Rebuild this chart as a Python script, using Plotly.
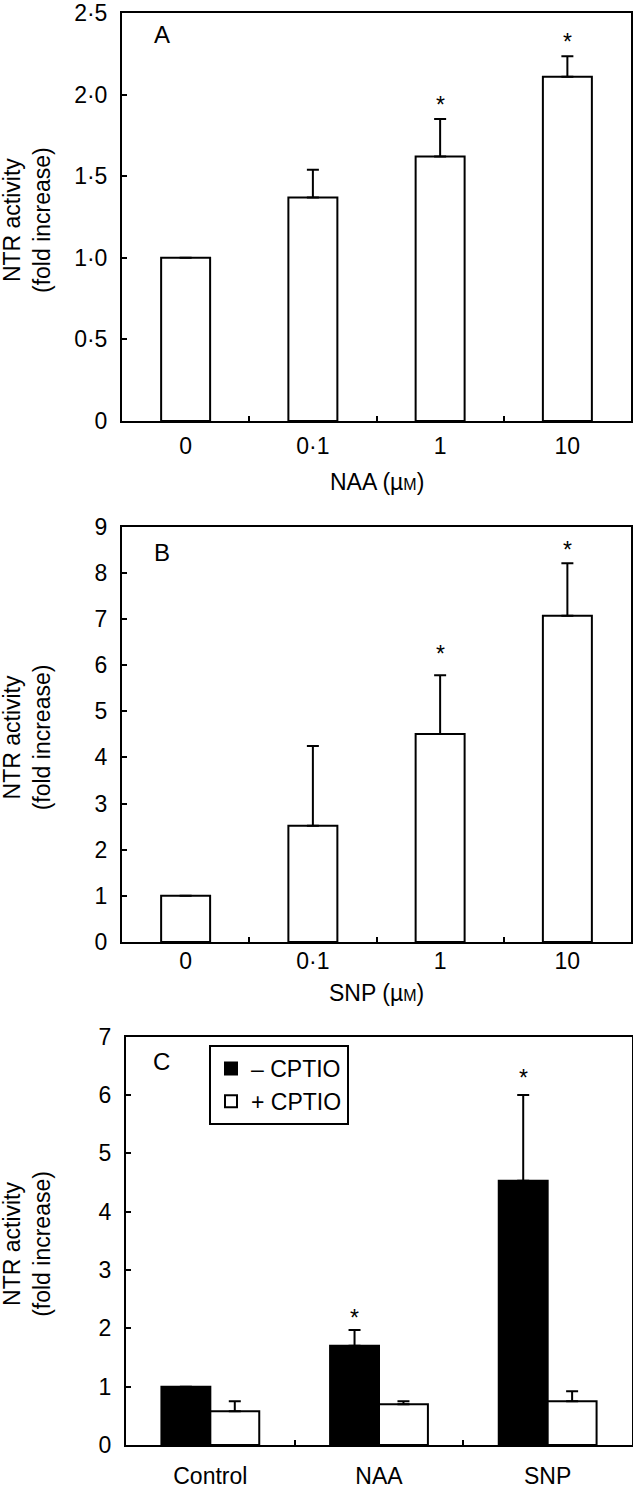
import plotly.graph_objects as go

FONT = "Liberation Sans, Arial, Helvetica, sans-serif"
FS = 23
W, H = 633, 1493

# ---------------- data ----------------
# Panel A: NAA dose
a_cats = ["0", "0·1", "1", "10"]
a_vals = [1.0, 1.37, 1.62, 2.11]
a_err = [0.0, 0.17, 0.23, 0.125]
a_star = [None, None, 1.97, 2.35]
a_yticks = [0, 0.5, 1.0, 1.5, 2.0, 2.5]
a_yticktext = ["0", "0·5", "1·0", "1·5", "2·0", "2·5"]

# Panel B: SNP dose
b_cats = ["0", "0·1", "1", "10"]
b_vals = [1.0, 2.52, 4.51, 7.07]
b_err = [0.0, 1.73, 1.27, 1.14]
b_star = [None, None, 6.34, 8.6]
b_yticks = list(range(0, 10))

# Panel C: +/- CPTIO
c_cats = ["Control", "NAA", "SNP"]
c_minus = [1.0, 1.70, 4.53]
c_minus_err = [0.0, 0.27, 1.47]
c_plus = [0.58, 0.70, 0.75]
c_plus_err = [0.17, 0.05, 0.17]
c_star = [None, 2.26, 6.37]
c_yticks = list(range(0, 8))

# ---------------- layout geometry (pixels) ----------------
def px_x(x):
    return x / W

def px_y(y):
    return 1 - y / H

A_dom_x = [px_x(122), px_x(631)]
A_dom_y = [px_y(421), px_y(13)]
B_dom_x = [px_x(122), px_x(631)]
B_dom_y = [px_y(942), px_y(526.7)]
C_dom_x = [px_x(126), px_x(632)]
C_dom_y = [px_y(1445), px_y(1036.7)]

BW1 = 0.385   # bar width, panels A/B (category units)
BW3 = 0.29    # bar width, panel C

err_style = dict(type="data", symmetric=False, color="black", thickness=2, width=6)

fig = go.Figure()

fig.add_trace(go.Bar(
    x=a_cats, y=a_vals, xaxis="x", yaxis="y", width=BW1, offset=-BW1 / 2,
    marker=dict(color="white", line=dict(color="black", width=2)),
    error_y=dict(array=a_err, arrayminus=[0] * len(a_err), **err_style),
    showlegend=False,
))
fig.add_trace(go.Bar(
    x=b_cats, y=b_vals, xaxis="x2", yaxis="y2", width=BW1, offset=-BW1 / 2,
    marker=dict(color="white", line=dict(color="black", width=2)),
    error_y=dict(array=b_err, arrayminus=[0] * len(b_err), **err_style),
    showlegend=False,
))
fig.add_trace(go.Bar(
    x=c_cats, y=c_minus, xaxis="x3", yaxis="y3", width=BW3, offset=-BW3,
    name="– CPTIO",
    marker=dict(color="black", line=dict(color="black", width=2)),
    error_y=dict(array=c_minus_err, arrayminus=[0] * len(c_minus_err), **err_style),
))
fig.add_trace(go.Bar(
    x=c_cats, y=c_plus, xaxis="x3", yaxis="y3", width=BW3, offset=0,
    name="+ CPTIO",
    marker=dict(color="white", line=dict(color="black", width=2)),
    error_y=dict(array=c_plus_err, arrayminus=[0] * len(c_plus_err), **err_style),
))

tickfont = dict(family=FONT, size=FS, color="black")

def xax(dom, anchor, n, standoff):
    return dict(domain=dom, anchor=anchor, type="category", range=[-0.5, n - 0.5],
                showline=True, linecolor="black", linewidth=2, mirror=True,
                ticks="inside", tickson="boundaries", ticklen=5, tickwidth=1.5,
                tickcolor="black", tickfont=tickfont, showgrid=False,
                zeroline=False, automargin=False, ticklabelstandoff=standoff,
                fixedrange=True)

def yax(dom, anchor, rng, tv, tt):
    return dict(domain=dom, anchor=anchor, range=rng, tickvals=tv, ticktext=tt,
                showline=True, linecolor="black", linewidth=2, mirror=True,
                ticks="inside", ticklen=5, tickwidth=1.5, tickcolor="black",
                tickfont=tickfont, showgrid=False, zeroline=False,
                automargin=False, ticklabelstandoff=8, fixedrange=True)

fig.update_layout(
    width=W, height=H,
    margin=dict(l=0, r=0, t=0, b=0),
    paper_bgcolor="white", plot_bgcolor="white",
    font=dict(family=FONT, size=FS, color="black"),
    barmode="group",
    xaxis=xax(A_dom_x, "y", len(a_cats), 3),
    yaxis=yax(A_dom_y, "x", [0, 2.5], a_yticks, a_yticktext),
    xaxis2=xax(B_dom_x, "y2", len(b_cats), -3),
    yaxis2=yax(B_dom_y, "x2", [0, 9], b_yticks, [str(v) for v in b_yticks]),
    xaxis3=xax(C_dom_x, "y3", len(c_cats), 9),
    yaxis3=yax(C_dom_y, "x3", [0, 7], c_yticks, [str(v) for v in c_yticks]),
    legend=dict(x=px_x(209), y=px_y(1045), xanchor="left", yanchor="top",
                bgcolor="white", bordercolor="black", borderwidth=2,
                font=dict(family=FONT, size=FS, color="black"),
                tracegroupgap=0, traceorder="normal"),
)

ann = []
# significance asterisks
for i, s in enumerate(a_star):
    if s is not None:
        ann.append(dict(x=i, y=s, xref="x", yref="y", text="*", showarrow=False,
                        font=dict(size=FS), yshift=-5))
for i, s in enumerate(b_star):
    if s is not None:
        ann.append(dict(x=i, y=s, xref="x2", yref="y2", text="*", showarrow=False,
                        font=dict(size=FS), yshift=-5))
for i, s in enumerate(c_star):
    if s is not None:
        ann.append(dict(x=i - BW3 / 2, y=s, xref="x3", yref="y3", text="*", showarrow=False,
                        font=dict(size=FS), yshift=-5))

# panel letters
for letter, ypx in [("A", 35), ("B", 552.7), ("C", 1061.7)]:
    ann.append(dict(x=px_x(161.5), y=px_y(ypx), xref="paper", yref="paper", text=letter,
                    showarrow=False, xanchor="center", yanchor="middle",
                    font=dict(size=FS + 1)))

# x-axis titles
um = "(µ<span style='font-size:16px'>M</span>)"
ann.append(dict(x=(A_dom_x[0] + A_dom_x[1]) / 2, y=px_y(481.7), xref="paper", yref="paper",
                text="NAA " + um, showarrow=False, xanchor="center", yanchor="middle"))
ann.append(dict(x=(B_dom_x[0] + B_dom_x[1]) / 2, y=px_y(993), xref="paper", yref="paper",
                text="SNP " + um, showarrow=False, xanchor="center", yanchor="middle"))

# y-axis titles
for dom in (A_dom_y, B_dom_y, C_dom_y):
    ann.append(dict(x=px_x(27), y=(dom[0] + dom[1]) / 2 - 3 / H, xref="paper", yref="paper",
                    text="NTR activity<br>(fold increase)", textangle=-90,
                    showarrow=False, xanchor="center", yanchor="middle"))

fig.update_layout(annotations=ann)

# remove the default page margin so the figure sits at the window's top-left corner
fig.write_html("out.html", config={"displayModeBar": False},
               post_script="document.body.style.margin='0';")
